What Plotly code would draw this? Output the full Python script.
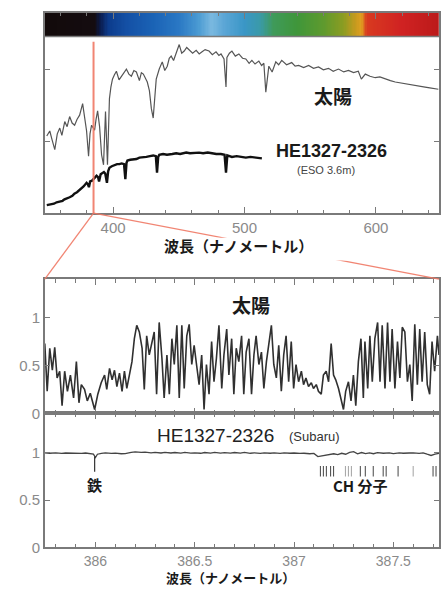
import numpy as np
import plotly.graph_objects as go

# ---------------- data ----------------
# Top panel: low-resolution spectra (wavelength nm, relative flux)
sun_lo_nm = [
    349.5, 351.8, 353.5, 355.6, 357.5, 359.4, 361.0, 363.2, 365.0, 366.9,
    368.8, 370.7, 372.5, 374.5, 376.8, 378.3, 379.8, 381.3, 382.4, 383.6,
    385.9, 387.0, 388.2, 389.7, 391.2, 392.7, 393.5, 394.2, 395.7, 396.5,
    397.2, 398.3, 399.5, 401.0, 402.5, 404.5, 406.3, 408.2, 410.1, 412.0,
    413.9, 415.8, 417.7, 420.0, 421.5, 423.0, 424.5, 426.0, 427.6, 429.1,
    430.5, 431.8, 432.8, 435.1, 437.4, 439.3, 441.2, 442.7, 444.2, 446.0,
    448.0, 450.3, 452.2, 454.1, 456.0, 457.8, 460.5, 463.2, 465.5, 467.7,
    470.0, 473.0, 475.5, 478.3, 480.5, 482.1, 484.4, 485.9, 486.6, 488.5,
    490.4, 493.0, 495.7, 498.5, 501.0, 503.5, 505.6, 508.0, 510.9, 513.0,
    514.7, 516.2, 517.5, 518.5, 521.0, 523.8, 526.0, 528.3, 532.0, 535.9,
    538.5, 541.2, 545.0, 548.8, 552.5, 556.3, 560.0, 563.9, 567.5, 571.5,
    575.5, 579.1, 583.0, 586.6, 588.9, 591.9, 595.5, 599.5, 603.0, 607.1,
    611.0, 614.7, 618.5, 622.2, 626.0, 629.8, 633.5, 637.4, 641.0, 644.5,
    647.5]
sun_lo_flux = [
    1.07, 1.14, 1.02, 0.88, 1.10, 1.18, 1.08, 1.27, 1.20, 1.34,
    1.25, 1.22, 1.30, 1.36, 1.52, 1.30, 1.14, 0.79, 1.10, 1.22,
    1.15, 1.30, 1.42, 1.20, 0.81, 0.67, 1.10, 1.41, 0.67, 1.05,
    1.59, 1.75, 1.86, 1.92, 1.97, 1.85, 1.90, 1.96, 2.00, 1.93,
    1.90, 1.98, 1.96, 1.84, 1.95, 1.93, 1.88, 1.82, 1.70, 1.45,
    1.32, 1.66, 1.86, 2.00, 2.10, 1.98, 2.04, 2.15, 2.18, 2.12,
    2.23, 2.34, 2.22, 2.25, 2.30, 2.27, 2.22, 2.26, 2.21, 2.24,
    2.27, 2.25, 2.20, 2.24, 2.19, 2.21, 2.14, 1.75, 2.16, 2.22,
    2.25, 2.18, 2.21, 2.15, 2.14, 2.08, 2.12, 2.07, 2.11, 2.05,
    2.08, 1.68, 1.95, 2.04, 1.96, 2.10, 2.06, 2.12, 2.06, 2.09,
    2.04, 2.05, 2.02, 2.05, 2.01, 2.03, 1.99, 2.01, 1.97, 2.00,
    1.96, 1.98, 1.95, 1.97, 1.86, 1.93, 1.90, 1.88, 1.89, 1.86,
    1.84, 1.82, 1.81, 1.79, 1.78, 1.77, 1.76, 1.75, 1.74, 1.73,
    1.72]

he_lo_nm = [
    349.5, 352.0, 355.0, 357.0, 359.4, 361.5, 363.0, 365.0, 366.9, 369.0,
    370.5, 372.5, 374.5, 376.0, 377.5, 379.8, 380.8, 381.6, 382.5, 384.0,
    385.5, 387.4, 388.5, 389.3, 390.5, 391.9, 393.0, 394.0, 395.3, 396.2,
    397.2, 399.0, 401.0, 403.0, 404.8, 406.5, 408.3, 409.3, 410.2, 410.9,
    413.0, 415.0, 417.7, 420.0, 422.5, 425.3, 428.0, 430.5, 432.5, 433.4,
    434.3, 435.1, 438.0, 441.0, 445.0, 448.0, 451.0, 455.6, 458.5, 462.0,
    465.4, 468.5, 472.0, 475.3, 478.5, 482.0, 484.8, 485.9, 486.9, 490.4,
    494.0, 497.5, 501.0, 504.5, 508.0, 511.0, 513.2]
he_lo_flux = [
    0.11, 0.12, 0.13, 0.15, 0.16, 0.17, 0.19, 0.20, 0.22, 0.24,
    0.27, 0.29, 0.32, 0.35, 0.37, 0.42, 0.40, 0.36, 0.44, 0.45,
    0.48, 0.52, 0.50, 0.44, 0.54, 0.56, 0.57, 0.55, 0.42, 0.58,
    0.63, 0.65, 0.67, 0.68, 0.68, 0.69, 0.68, 0.47, 0.70, 0.73,
    0.74, 0.74, 0.75, 0.77, 0.77, 0.78, 0.79, 0.80, 0.79, 0.56,
    0.78, 0.81, 0.82, 0.81, 0.82, 0.83, 0.82, 0.84, 0.83, 0.84,
    0.84, 0.83, 0.84, 0.83, 0.82, 0.82, 0.81, 0.56, 0.80, 0.78,
    0.79, 0.78, 0.77, 0.78, 0.77, 0.76, 0.76]

# Bottom panel: high-resolution spectra
sun_hi_nm = [
    385.745, 385.757, 385.770, 385.783, 385.795, 385.807, 385.820, 385.832, 385.845, 385.859,
    385.874, 385.890, 385.904, 385.917, 385.929, 385.945, 385.959, 385.974, 385.996, 386.012,
    386.029, 386.046, 386.057, 386.071, 386.084, 386.096, 386.108, 386.121, 386.134, 386.146,
    386.158, 386.171, 386.184, 386.196, 386.208, 386.221, 386.235, 386.246, 386.258, 386.271,
    386.285, 386.296, 386.308, 386.321, 386.335, 386.346, 386.360, 386.372, 386.385, 386.397,
    386.410, 386.422, 386.435, 386.447, 386.460, 386.472, 386.485, 386.497, 386.509, 386.522,
    386.535, 386.547, 386.559, 386.572, 386.585, 386.597, 386.609, 386.622, 386.636, 386.647,
    386.661, 386.672, 386.686, 386.697, 386.709, 386.722, 386.736, 386.747, 386.759, 386.773,
    386.786, 386.798, 386.809, 386.823, 386.836, 386.848, 386.861, 386.873, 386.886, 386.898,
    386.911, 386.923, 386.936, 386.948, 386.960, 386.973, 386.986, 386.998, 387.010, 387.023,
    387.037, 387.048, 387.060, 387.073, 387.087, 387.098, 387.112, 387.123, 387.137, 387.148,
    387.162, 387.174, 387.187, 387.199, 387.210, 387.224, 387.237, 387.249, 387.260, 387.274,
    387.287, 387.299, 387.311, 387.324, 387.337, 387.349, 387.357, 387.371, 387.382, 387.394,
    387.407, 387.421, 387.433, 387.444, 387.458, 387.471, 387.483, 387.494, 387.508, 387.521,
    387.533, 387.545, 387.558, 387.571, 387.583, 387.595, 387.608, 387.621, 387.633, 387.645,
    387.658, 387.671, 387.683, 387.695, 387.708, 387.722, 387.730]
sun_hi_flux = [
    0.73, 0.23, 0.68, 0.45, 0.69, 0.37, 0.44, 0.08, 0.44, 0.23,
    0.40, 0.16, 0.54, 0.11, 0.30, 0.25, 0.13, 0.21, 0.04, 0.20,
    0.32, 0.40, 0.25, 0.47, 0.35, 0.45, 0.28, 0.42, 0.23, 0.44,
    0.26, 0.42, 0.54, 0.78, 0.92, 0.85, 0.68, 0.25, 0.81, 0.61,
    0.75, 0.85, 0.20, 0.95, 0.57, 0.16, 0.61, 0.20, 0.78, 0.51,
    0.92, 0.16, 0.92, 0.26, 0.81, 0.93, 0.51, 0.71, 0.51, 0.30,
    0.61, 0.04, 0.51, 0.20, 0.75, 0.33, 0.57, 0.92, 0.26, 0.61,
    0.88, 0.40, 0.78, 0.20, 0.68, 0.54, 0.81, 0.20, 0.64, 0.78,
    0.20, 0.61, 0.81, 0.51, 0.64, 0.26, 0.54, 0.75, 0.92, 0.51,
    0.37, 0.71, 0.23, 0.61, 0.81, 0.33, 0.75, 0.26, 0.51, 0.33,
    0.44, 0.30, 0.37, 0.28, 0.32, 0.26, 0.30, 0.23, 0.20, 0.40,
    0.44, 0.33, 0.73, 0.40, 0.35, 0.26, 0.13, 0.04, 0.23, 0.33,
    0.13, 0.40, 0.08, 0.54, 0.78, 0.16, 0.75, 0.26, 0.81, 0.33,
    0.78, 0.95, 0.33, 0.92, 0.26, 0.95, 0.33, 0.88, 0.26, 0.75,
    0.37, 0.90, 0.85, 0.33, 0.51, 0.13, 0.93, 0.30, 0.88, 0.33,
    0.85, 0.30, 0.20, 0.75, 0.44, 0.81, 0.61]

he_hi_nm = [
    385.745, 385.77, 385.80, 385.83, 385.85, 385.88, 385.90, 385.93, 385.95, 385.98,
    385.99, 386.00, 386.01, 386.03, 386.05, 386.08, 386.10, 386.13, 386.15, 386.18,
    386.20, 386.23, 386.25, 386.28, 386.30, 386.33, 386.35, 386.38, 386.40, 386.43,
    386.45, 386.48, 386.50, 386.53, 386.55, 386.58, 386.60, 386.63, 386.65, 386.68,
    386.70, 386.73, 386.75, 386.78, 386.80, 386.83, 386.85, 386.88, 386.90, 386.93,
    386.95, 386.98, 387.00, 387.03, 387.05, 387.08, 387.10, 387.12, 387.14, 387.16,
    387.18, 387.20, 387.22, 387.24, 387.26, 387.28, 387.30, 387.32, 387.34, 387.36,
    387.38, 387.40, 387.42, 387.45, 387.48, 387.50, 387.53, 387.55, 387.58, 387.60,
    387.63, 387.65, 387.67, 387.69, 387.71, 387.73]
he_hi_flux = [
    1.000, 0.995, 1.000, 0.993, 0.998, 0.995, 1.000, 0.993, 0.998, 0.990,
    0.985, 0.950, 0.985, 0.995, 1.000, 0.993, 0.997, 0.990, 0.992, 1.005,
    1.010, 1.005, 1.008, 1.000, 1.005, 0.998, 1.005, 0.998, 1.003, 0.997,
    1.005, 0.997, 1.000, 0.995, 1.003, 0.997, 1.005, 0.996, 1.002, 0.996,
    1.003, 0.997, 1.004, 0.995, 1.000, 0.994, 1.000, 0.995, 0.999, 0.994,
    1.000, 0.995, 0.998, 0.993, 0.995, 0.990, 0.993, 0.960, 0.968, 0.972,
    0.978, 0.990, 0.980, 0.995, 0.985, 1.005, 1.012, 0.990, 1.003, 0.992,
    1.000, 0.990, 1.002, 0.995, 1.000, 0.992, 1.000, 0.995, 0.998, 1.000,
    0.993, 1.000, 0.985, 0.972, 0.985, 0.995]

fe_line_nm = [385.996]
ch_lines_dark_nm = [387.133, 387.148, 387.163, 387.184, 387.199, 387.334, 387.359,
                    387.399, 387.449, 387.464, 387.524, 387.700, 387.715]
ch_lines_light_nm = [387.259, 387.274, 387.289, 387.600]

zoom_nm = 385.1          # where the zoomed region sits on the low-res scale

# colour spectrum band (wavelength stops -> colour)
band_nm = [348, 386, 390, 396, 410, 430, 450, 465, 475, 485, 500, 512, 522,
           540, 560, 575, 585, 589, 593, 620, 648]
band_col = ['#120a0a', '#140c10', '#0a1a4a', '#0c3a8a', '#1450a5', '#1a62b5',
            '#2a78c4', '#4a9ad2', '#7ab9e0', '#5aa5d5', '#3a96c6', '#3a9aa8',
            '#3f9a5a', '#3f963a', '#5e9a2e', '#8a9c22', '#c89a1e', '#e0a020',
            '#d83a20', '#d02222', '#bb1a1a']

# tick positions
top_xticks = [400, 500, 600]
top_xminor = [360, 380, 420, 440, 460, 480, 520, 540, 560, 580, 620, 640]
bot_xticks = [386, 386.5, 387, 387.5]
bot_xticktext = ['386', '386.5', '387', '387.5']
bot_xminor = [385.8, 385.9, 386.1, 386.2, 386.3, 386.4, 386.6, 386.7, 386.8,
              386.9, 387.1, 387.2, 387.3, 387.4, 387.6, 387.7]
bot_yticks = [0, 0.5, 1]
bot_yticktext = ['0', '0.5', '1']

# ---------------- layout geometry ----------------
W, H = 441, 590
XL = 45 / W
TOP_X = [348, 648]
BOT_X = [385.745, 387.73]
TOP_Y = [0, 2.781]
BAND_Y = [2.452, 2.781]
TOP_DOM = [1 - 216 / H, 1 - 13 / H]
UP_DOM = [1 - 419 / H, 1 - 283 / H]
LO_DOM = [1 - 555 / H, 1 - 419 / H]

AX = '#7a7a7a'
TICKFONT = dict(family='Liberation Sans, Arial, sans-serif', size=15, color='#8a8a8a')
TICKFONT_B = dict(family='Liberation Sans, Arial, sans-serif', size=14, color='#8a8a8a')
JP = 'Noto Sans CJK JP'

fig = go.Figure()

# colour band
lo, hi = band_nm[0], band_nm[-1]
cs = [[(w - lo) / (hi - lo), c] for w, c in zip(band_nm, band_col)]
edges = np.arange(lo, hi + 1, 1.0)
centers = (edges[:-1] + edges[1:]) / 2
fig.add_trace(go.Heatmap(x=edges, y=BAND_Y, z=[centers], colorscale=cs,
                         zmin=lo, zmax=hi, showscale=False, hoverinfo='skip',
                         xaxis='x', yaxis='y'))

fig.add_trace(go.Scatter(x=sun_lo_nm, y=sun_lo_flux, mode='lines',
                         line=dict(color='#555', width=1.2), xaxis='x', yaxis='y'))
fig.add_trace(go.Scatter(x=he_lo_nm, y=he_lo_flux, mode='lines',
                         line=dict(color='#111', width=2.4), xaxis='x', yaxis='y'))
fig.add_trace(go.Scatter(x=sun_hi_nm, y=sun_hi_flux, mode='lines',
                         line=dict(color='#303030', width=1.6), xaxis='x2', yaxis='y2'))
fig.add_trace(go.Scatter(x=he_hi_nm, y=he_hi_flux, mode='lines',
                         line=dict(color='#444', width=1.3), xaxis='x3', yaxis='y3'))

# line markers
for w in fe_line_nm:
    fig.add_trace(go.Scatter(x=[w, w], y=[0.96, 0.80], mode='lines',
                             line=dict(color='#333', width=1.2), xaxis='x3', yaxis='y3'))
for w in ch_lines_dark_nm:
    fig.add_trace(go.Scatter(x=[w, w], y=[0.86, 0.75], mode='lines',
                             line=dict(color='#555', width=1.1), xaxis='x3', yaxis='y3'))
for w in ch_lines_light_nm:
    fig.add_trace(go.Scatter(x=[w, w], y=[0.86, 0.75], mode='lines',
                             line=dict(color='#aaa', width=1.1), xaxis='x3', yaxis='y3'))

RED = 'rgba(240,120,100,0.9)'
shapes = []
shapes.append(dict(type='line', xref='x', yref='y', x0=TOP_X[0], x1=TOP_X[1],
                   y0=BAND_Y[0], y1=BAND_Y[0], line=dict(color=AX, width=1.5)))
shapes.append(dict(type='line', xref='x', yref='y', x0=zoom_nm, x1=zoom_nm,
                   y0=0, y1=2.38, line=dict(color=RED, width=2), layer='above'))
zx = XL + (zoom_nm - TOP_X[0]) / (TOP_X[1] - TOP_X[0]) * (1 - XL)
shapes.append(dict(type='line', xref='paper', yref='paper', x0=zx, y0=TOP_DOM[0],
                   x1=XL, y1=UP_DOM[1], line=dict(color=RED, width=1.3)))
shapes.append(dict(type='line', xref='paper', yref='paper', x0=zx, y0=TOP_DOM[0],
                   x1=1.0, y1=UP_DOM[1], line=dict(color=RED, width=1.3)))
shapes.append(dict(type='rect', xref='paper', yref='paper', x0=163 / W, x1=398 / W,
                   y0=1 - 264 / H, y1=1 - 241 / H, fillcolor='white',
                   line=dict(width=0), layer='above'))

ann = []
def A(text, x, y, xref, yref, size, color='#1a1a1a', family=JP):
    ann.append(dict(text=text, x=x, y=y, xref=xref, yref=yref, showarrow=False,
                    font=dict(size=size, color=color, family=family),
                    xanchor='center', yanchor='middle'))

SANS = 'Liberation Sans, Arial, sans-serif'
A('<b>太陽</b>', 567.7, 1.63, 'x', 'y', 19)
A('<b>HE1327-2326</b>', 566, 0.86, 'x', 'y', 18, family=SANS)
A('(ESO 3.6m)', 562, 0.60, 'x', 'y', 11, color='#444', family=SANS)
A('<b>太陽</b>', 386.783, 1.14, 'x2', 'y2', 19)
A('HE1327-2326', 386.607, 1.18, 'x3', 'y3', 19, color='#222', family=SANS)
A('(Subaru)', 387.103, 1.17, 'x3', 'y3', 13, color='#333', family=SANS)
A('<b>鉄</b>', 385.996, 0.66, 'x3', 'y3', 15)
A('<b>CH 分子</b>', 387.334, 0.65, 'x3', 'y3', 15)
A('<b>波長（ナノメートル）</b>', 240 / W, 1 - 249 / H, 'paper', 'paper', 15)
A('<b>波長（ナノメートル）</b>', 232 / W, 1 - 585 / H, 'paper', 'paper', 13)

common = dict(showgrid=False, zeroline=False, showline=True, linecolor=AX, linewidth=1.5,
              mirror='allticks', ticks='inside', tickcolor=AX, tickwidth=1.2,
              tickfont=TICKFONT)

def minor(vals, ln):
    return dict(ticks='inside', tickmode='array', tickvals=vals, ticklen=ln,
                tickcolor=AX, tickwidth=1)

fig.update_layout(
    width=W, height=H, margin=dict(l=0, r=0, t=0, b=0),
    paper_bgcolor='white', plot_bgcolor='white', showlegend=False,
    xaxis=dict(common, domain=[XL, 1], range=TOP_X, anchor='y',
               tickmode='array', tickvals=top_xticks, ticklen=6,
               minor=minor(top_xminor, 3)),
    yaxis=dict(common, domain=TOP_DOM, range=TOP_Y, anchor='x',
               tickmode='array', tickvals=[1, 2], showticklabels=False, ticklen=5),
    xaxis2=dict(common, domain=[XL, 1], range=BOT_X, anchor='y2',
                tickmode='array', tickvals=bot_xticks, showticklabels=False, ticklen=6,
                minor=minor(bot_xminor, 4)),
    yaxis2=dict(common, domain=UP_DOM, range=[0, 1.402], anchor='x2',
                tickmode='array', tickvals=bot_yticks, ticktext=bot_yticktext, ticklen=5),
    xaxis3=dict(common, domain=[XL, 1], range=BOT_X, anchor='y3',
                tickmode='array', tickvals=bot_xticks, ticktext=bot_xticktext, ticklen=6,
                tickfont=TICKFONT_B, minor=minor(bot_xminor, 4)),
    yaxis3=dict(common, domain=LO_DOM, range=[0, 1.417], anchor='x3',
                tickmode='array', tickvals=bot_yticks, ticktext=bot_yticktext, ticklen=5),
    shapes=shapes, annotations=ann,
)

fig.write_html('out.html')
